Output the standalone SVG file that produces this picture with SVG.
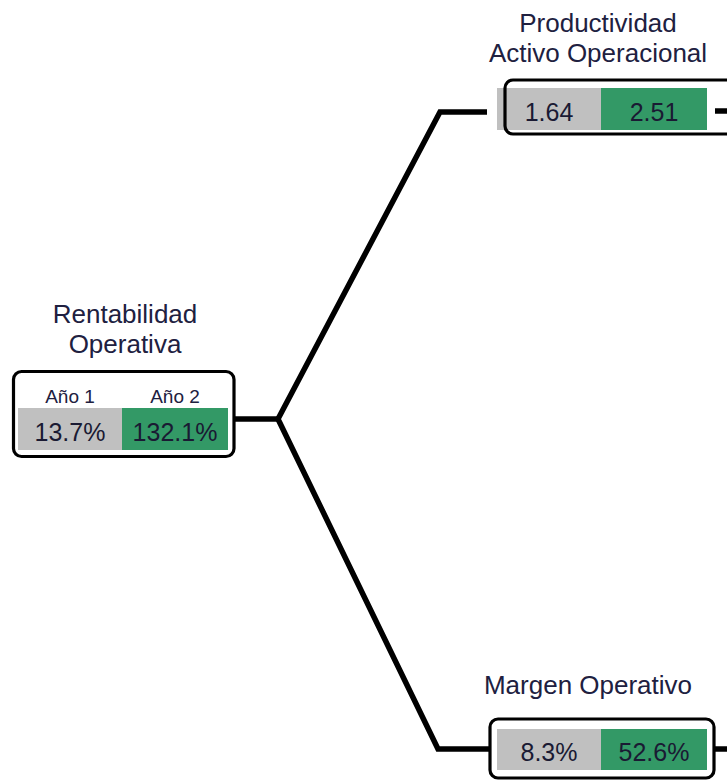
<svg xmlns="http://www.w3.org/2000/svg" width="727" height="781" viewBox="0 0 727 781">
  <style>
    .title { font-family: "Liberation Sans", Arial, sans-serif; font-size: 26px; fill: #202040; text-anchor: middle; }
    .head { font-family: "Liberation Sans", Arial, sans-serif; font-size: 19px; fill: #202040; text-anchor: middle; }
    .val { font-family: "Liberation Sans", Arial, sans-serif; font-size: 25px; fill: #1a1a33; text-anchor: middle; }
    .frame { fill: none; stroke: #000; stroke-width: 3.2; }
    .back { fill: #fff; }
    .y1 { fill: #c0c0c0; }
    .y2 { fill: #339966; }
    .wire { fill: none; stroke: #000; stroke-width: 5.5; stroke-linejoin: miter; stroke-linecap: butt; }
  </style>

  <!-- root: Rentabilidad Operativa -->
  <g id="rentabilidad-operativa">
    <text class="title" x="125" y="323">Rentabilidad</text>
    <text class="title" x="125" y="353">Operativa</text>
    <rect class="back" x="13.5" y="371.5" width="220.5" height="85" rx="8"/>
    <text class="head" x="70" y="403">Año 1</text>
    <text class="head" x="175" y="403">Año 2</text>
    <rect class="y1" x="18" y="408" width="104" height="42"/>
    <rect class="y2" x="122" y="408" width="106" height="42"/>
    <text class="val" x="70" y="441">13.7%</text>
    <text class="val" x="175" y="441">132.1%</text>
    <rect class="frame" x="13.5" y="371.5" width="220.5" height="85" rx="8"/>
  </g>

  <!-- Productividad Activo Operacional -->
  <g id="productividad-activo">
    <text class="title" x="598" y="32">Productividad</text>
    <text class="title" x="598" y="62">Activo Operacional</text>
    <rect class="back" x="505" y="80" width="240" height="54" rx="8"/>
    <rect class="y1" x="497" y="88" width="104" height="42"/>
    <rect class="y2" x="601" y="88" width="106" height="42"/>
    <text class="val" x="549" y="121">1.64</text>
    <text class="val" x="654" y="121">2.51</text>
    <rect class="frame" x="505" y="80" width="240" height="54" rx="8"/>
  </g>

  <!-- Margen Operativo -->
  <g id="margen-operativo">
    <text class="title" x="588" y="694">Margen Operativo</text>
    <rect class="back" x="490" y="719" width="224" height="59" rx="8"/>
    <rect class="y1" x="497" y="729" width="104" height="41"/>
    <rect class="y2" x="601" y="729" width="106" height="41"/>
    <text class="val" x="549" y="761">8.3%</text>
    <text class="val" x="654" y="761">52.6%</text>
    <rect class="frame" x="490" y="719" width="224" height="59" rx="8"/>
  </g>

  <!-- connectors, drawn last so the outgoing stubs sit above the boxes -->
  <g id="connectors">
    <path class="wire" d="M234,419 H280"/>
    <path class="wire" d="M487,112 H440 L278,419 L438,749 H490"/>
    <path class="wire" d="M715,111 H727"/>
    <path class="wire" d="M715,749 H727"/>
  </g>
</svg>
